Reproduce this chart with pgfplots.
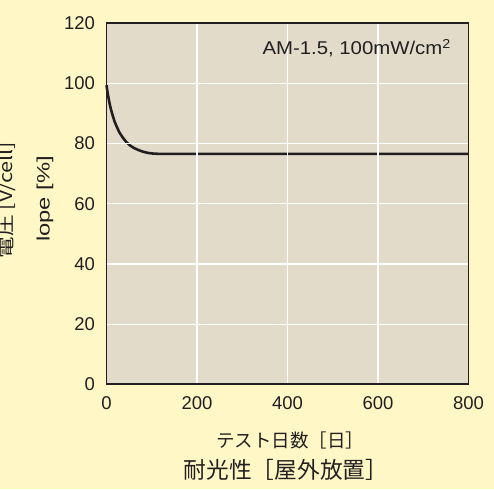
\documentclass[border=0pt]{standalone}
\usepackage{pgfplots}
\pgfplotsset{compat=1.18}
\usepackage{fontspec}
\setmainfont{Liberation Sans}
\newfontfamily\cjk{Noto Sans CJK JP}
\definecolor{outerbg}{RGB}{255,248,198}
\definecolor{plotbg}{RGB}{226,219,202}
\definecolor{ink}{RGB}{35,31,32}
\begin{document}
\begin{tikzpicture}[x=1pt,y=1pt]
\clip (0,0) rectangle (494,489);
\fill[outerbg] (0,0) rectangle (494,489);
\begin{axis}[
  at={(106.5pt,104.7pt)}, anchor=south west,
  scale only axis, width=362pt, height=361pt,
  xmin=0, xmax=800, ymin=0, ymax=120,
  xtick={0,200,400,600,800}, ytick={0,20,40,60,80,100,120},
  axis background/.style={fill=plotbg},
  grid=major, major grid style={white, line width=1.2pt},
  axis line style={ink, line width=1.8pt},
  major tick length=0pt,
  axis on top,
  tick label style={font=\fontsize{18.5}{20}\selectfont, text=ink},
  /pgf/number format/assume math mode=true,
  xticklabel style={yshift=-9pt},
  yticklabel style={xshift=-8pt},
  clip=false,
]
\addplot[ink, line width=2.6pt, line join=round] coordinates {
(0,99.4)(2,97.3)(4,95.6)(7,93.2)(10,91.3)(14,89.2)(18,87.3)(23,85.5)(29,83.6)(36,82.0)(44,80.5)(52,79.4)(60,78.6)(70,77.9)(81,77.3)(92,76.9)(103,76.7)(115,76.6)(800,76.6)
};
\end{axis}
\node[anchor=east, font=\fontsize{18.5}{20}\selectfont, text=ink, inner sep=0pt] at (451,441) {\scalebox{1.1}[1]{AM-1.5, 100mW/cm\textsuperscript{2}}};
\node[rotate=90, font=\cjk\fontsize{18}{20}\selectfont, text=ink] at (7,289) {\scalebox{1.2}[1]{電圧 [V/cell]}};
\node[rotate=90, font=\fontsize{18}{20}\selectfont, text=ink] at (45,290) {\scalebox{1.32}[1]{lope [\%]}};
\node[font=\cjk\fontsize{18.5}{20}\selectfont, text=ink] at (290,49) {テスト日数［日］};
\node[font=\cjk\fontsize{22.7}{25}\selectfont, text=ink] at (286,19) {耐光性［屋外放置］};
\end{tikzpicture}
\end{document}
